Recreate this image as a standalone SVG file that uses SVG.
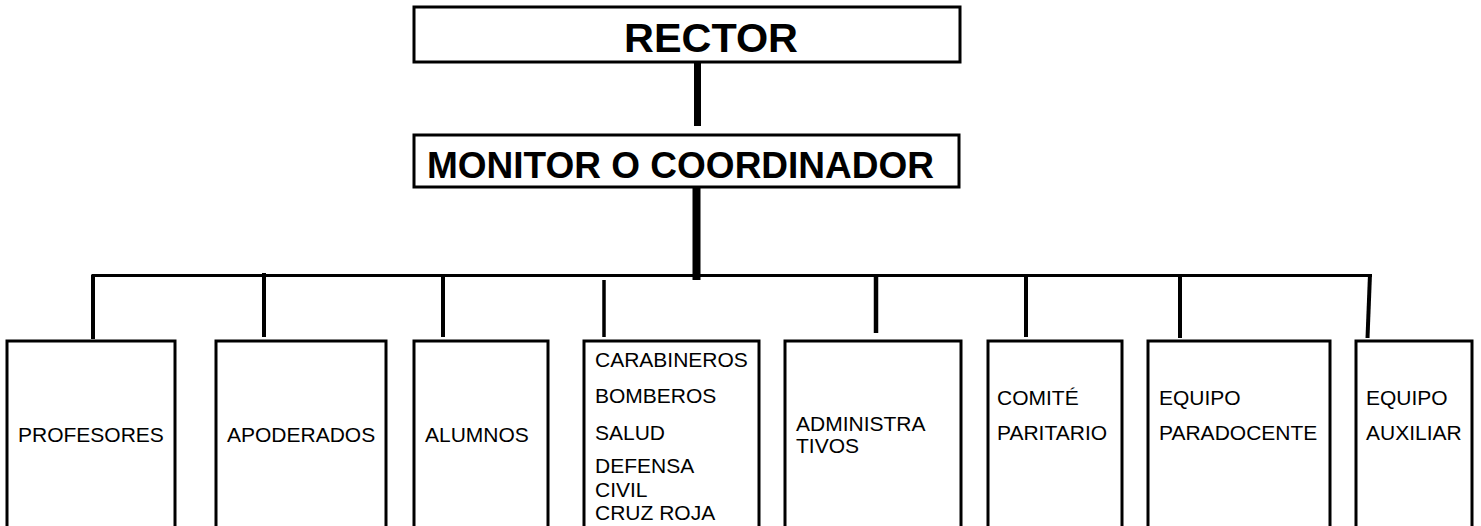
<svg xmlns="http://www.w3.org/2000/svg" width="1481" height="526" viewBox="0 0 1481 526">
<style>
.box{fill:#fff;stroke:#000;stroke-width:3}
.t{font-family:"Liberation Sans",Arial,sans-serif;font-size:21px;fill:#000}
.tb{font-family:"Liberation Sans",Arial,sans-serif;font-weight:bold;fill:#000}
.c{stroke:#000;fill:none;stroke-linecap:butt}
</style>
<rect width="1481" height="526" fill="#fff"/>
<g id="connectors">
<line class="c" x1="697.5" y1="62" x2="697.5" y2="126" stroke-width="7"/>
<line class="c" x1="696.5" y1="187" x2="696.5" y2="280" stroke-width="8"/>
<polyline class="c" points="93,339 93,275.5 1372,275.5" stroke-width="3"/>
<line class="c" x1="93" y1="275" x2="93" y2="339" stroke-width="4"/>
<line class="c" x1="264" y1="273" x2="264" y2="337" stroke-width="4"/>
<line class="c" x1="443" y1="274" x2="443" y2="337" stroke-width="4"/>
<line class="c" x1="604" y1="280" x2="604" y2="337" stroke-width="3.5"/>
<line class="c" x1="876" y1="277" x2="876" y2="333" stroke-width="4.5"/>
<line class="c" x1="1026" y1="275" x2="1026" y2="337" stroke-width="4"/>
<line class="c" x1="1180" y1="275" x2="1180" y2="338" stroke-width="4"/>
<line class="c" x1="1370" y1="274" x2="1367.5" y2="338" stroke-width="4"/>
</g>
<g id="rector">
<rect class="box" x="414" y="7" width="546" height="55"/>
<text class="tb" x="624" y="52" font-size="40" textLength="174" lengthAdjust="spacingAndGlyphs">RECTOR</text>
</g>
<g id="monitor">
<rect class="box" x="414" y="135" width="545" height="52"/>
<text class="tb" x="427" y="178" font-size="37">MONITOR O COORDINADOR</text>
</g>
<g id="profesores">
<rect class="box" x="7" y="341" width="168" height="200"/>
<text class="t" x="18" y="442">PROFESORES</text>
</g>
<g id="apoderados">
<rect class="box" x="216" y="341" width="170" height="200"/>
<text class="t" x="227" y="442">APODERADOS</text>
</g>
<g id="alumnos">
<rect class="box" x="414" y="341" width="134" height="200"/>
<text class="t" x="425" y="442">ALUMNOS</text>
</g>
<g id="externos">
<rect class="box" x="584" y="341" width="175" height="200"/>
<text class="t" x="595" y="367">CARABINEROS</text>
<text class="t" x="595" y="403">BOMBEROS</text>
<text class="t" x="595" y="440">SALUD</text>
<text class="t" x="595" y="473">DEFENSA</text>
<text class="t" x="595" y="497">CIVIL</text>
<text class="t" x="595" y="520">CRUZ ROJA</text>
</g>
<g id="administrativos">
<rect class="box" x="785" y="341" width="176" height="200"/>
<text class="t" x="796" y="431">ADMINISTRA</text>
<text class="t" x="796" y="453">TIVOS</text>
</g>
<g id="comite">
<rect class="box" x="988" y="341" width="134" height="200"/>
<text class="t" x="997" y="405">COMITÉ</text>
<text class="t" x="997" y="440">PARITARIO</text>
</g>
<g id="paradocente">
<rect class="box" x="1148" y="341" width="182" height="200"/>
<text class="t" x="1159" y="405">EQUIPO</text>
<text class="t" x="1159" y="440">PARADOCENTE</text>
</g>
<g id="auxiliar">
<rect class="box" x="1356" y="341" width="116" height="200"/>
<text class="t" x="1366" y="405">EQUIPO</text>
<text class="t" x="1366" y="440">AUXILIAR</text>
</g>
</svg>
